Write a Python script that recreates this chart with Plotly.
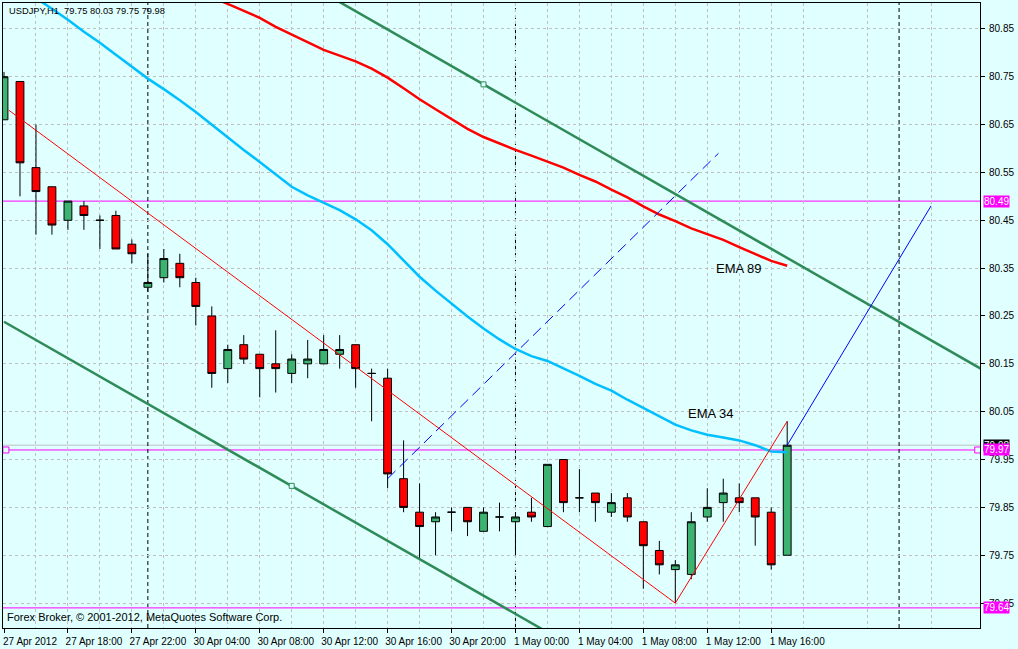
import plotly.graph_objects as go

# ---------------- data ----------------
bars = list(range(50))
opens = [80.66, 80.74, 80.56, 80.52, 80.45, 80.48, 80.45, 80.46, 80.40, 80.31,
         80.33, 80.36, 80.32, 80.25, 80.14, 80.19, 80.17, 80.15, 80.13, 80.15,
         80.15, 80.17, 80.19, 80.13, 80.12, 79.91, 79.84, 79.82, 79.84, 79.85,
         79.80, 79.83, 79.82, 79.84, 79.81, 79.95, 79.87, 79.88, 79.84, 79.87,
         79.82, 79.76, 79.72, 79.71, 79.83, 79.86, 79.87, 79.87, 79.84, 79.75]
highs = [80.76, 80.74, 80.65, 80.52, 80.49, 80.49, 80.46, 80.47, 80.41, 80.38,
         80.39, 80.38, 80.33, 80.27, 80.19, 80.21, 80.17, 80.22, 80.17, 80.20,
         80.21, 80.21, 80.19, 80.14, 80.14, 79.99, 79.90, 79.84, 79.85, 79.85,
         79.85, 79.86, 79.84, 79.87, 79.94, 79.95, 79.93, 79.88, 79.88, 79.88,
         79.82, 79.78, 79.74, 79.84, 79.89, 79.91, 79.90, 79.87, 79.85, 80.03]
lows = [80.66, 80.50, 80.42, 80.42, 80.43, 80.43, 80.39, 80.39, 80.36, 80.30,
        80.32, 80.31, 80.23, 80.10, 80.11, 80.15, 80.08, 80.09, 80.11, 80.12,
        80.15, 80.14, 80.10, 80.03, 79.89, 79.84, 79.74, 79.75, 79.80, 79.79,
        79.80, 79.80, 79.75, 79.82, 79.81, 79.84, 79.84, 79.82, 79.83, 79.82,
        79.68, 79.71, 79.65, 79.70, 79.82, 79.82, 79.84, 79.77, 79.72, 79.75]
closes = [80.75, 80.57, 80.51, 80.44, 80.49, 80.46, 80.45, 80.39, 80.38, 80.32,
          80.37, 80.33, 80.27, 80.13, 80.18, 80.16, 80.14, 80.14, 80.16, 80.16,
          80.18, 80.18, 80.14, 80.13, 79.92, 79.85, 79.81, 79.83, 79.84, 79.82,
          79.84, 79.83, 79.83, 79.83, 79.94, 79.86, 79.87, 79.86, 79.86, 79.83,
          79.77, 79.73, 79.73, 79.82, 79.85, 79.88, 79.86, 79.83, 79.73, 79.98]

ema34 = [80.960, 80.937, 80.914, 80.891, 80.869, 80.844, 80.821, 80.796, 80.771, 80.746,
         80.724, 80.701, 80.676, 80.649, 80.624, 80.597, 80.572, 80.545, 80.520, 80.502,
         80.487, 80.471, 80.452, 80.429, 80.400, 80.365, 80.332, 80.303, 80.276, 80.249,
         80.224, 80.201, 80.181, 80.166, 80.156, 80.141, 80.125, 80.108, 80.094, 80.075,
         80.058, 80.040, 80.023, 80.011, 80.002, 79.996, 79.990, 79.980, 79.967, 79.965]
ema89 = [81.124, 81.107, 81.090, 81.074, 81.057, 81.041, 81.024, 81.008, 80.991, 80.976,
         80.960, 80.945, 80.931, 80.916, 80.902, 80.887, 80.873, 80.854, 80.838, 80.821,
         80.806, 80.794, 80.782, 80.767, 80.748, 80.726, 80.703, 80.682, 80.661, 80.641,
         80.624, 80.610, 80.597, 80.585, 80.572, 80.560, 80.545, 80.531, 80.514, 80.498,
         80.479, 80.462, 80.448, 80.433, 80.421, 80.409, 80.394, 80.380, 80.365, 80.355]

tick_bars = [0, 4, 8, 12, 16, 20, 24, 28, 32, 36, 40, 44, 48]
tick_labels = ["27 Apr 2012", "27 Apr 18:00", "27 Apr 22:00", "30 Apr 04:00",
               "30 Apr 08:00", "30 Apr 12:00", "30 Apr 16:00", "30 Apr 20:00",
               "1 May 00:00", "1 May 04:00", "1 May 08:00", "1 May 12:00", "1 May 16:00"]
grid_bars = [2, 6, 10, 14, 18, 22, 26, 30, 34, 38, 42, 46, 50, 54, 58]
separators = [9, 32, 56]
price_ticks = [79.65, 79.75, 79.85, 79.95, 80.05, 80.15, 80.25, 80.35,
               80.45, 80.55, 80.65, 80.75, 80.85]

level_lines = [80.49, 79.97, 79.64]
bid_price = 79.98

upper_channel_x = [0, 62]
upper_channel_y = [81.307, 80.123]
upper_anchor_x, upper_anchor_y = [30], [80.734]
lower_channel_x = [0, 62]
lower_channel_y = [80.238, 79.055]
lower_anchor_x, lower_anchor_y = [18], [79.895]

zigzag_x = [0.3, 42, 49]
zigzag_y = [80.68, 79.65, 80.03]
dashed_x = [24, 44.7]
dashed_y = [79.91, 80.59]
proj_x = [49, 58]
proj_y = [79.98, 80.48]
level_marker_x = [0.12, 60.92]

x_range = [-0.0625, 61.0625]
y_range = [79.598, 80.904]

BG = "#E0FFFF"
FONT = "Liberation Sans"

# ---------------- figure ----------------
fig = go.Figure()

fig.add_trace(go.Scatter(x=bars, y=ema89, mode="lines",
                         line=dict(color="#FF0000", width=2.5), hoverinfo="skip"))
fig.add_trace(go.Scatter(x=bars, y=ema34, mode="lines",
                         line=dict(color="#00BFFF", width=2.5), hoverinfo="skip"))
fig.add_trace(go.Scatter(x=upper_channel_x, y=upper_channel_y, mode="lines",
                         line=dict(color="#2E8B57", width=2.5), hoverinfo="skip"))
fig.add_trace(go.Scatter(x=lower_channel_x, y=lower_channel_y, mode="lines",
                         line=dict(color="#2E8B57", width=2.5), hoverinfo="skip"))
fig.add_trace(go.Scatter(x=upper_anchor_x + lower_anchor_x,
                         y=upper_anchor_y + lower_anchor_y, mode="markers",
                         marker=dict(symbol="square", size=5, color=BG,
                                     line=dict(color="#2E8B57", width=1)),
                         hoverinfo="skip"))
fig.add_trace(go.Scatter(x=zigzag_x, y=zigzag_y, mode="lines",
                         line=dict(color="#FF0000", width=1), hoverinfo="skip"))
fig.add_trace(go.Scatter(x=dashed_x, y=dashed_y, mode="lines",
                         line=dict(color="#0000FF", width=1, dash="11px,6px"),
                         hoverinfo="skip"))
fig.add_trace(go.Scatter(x=proj_x, y=proj_y, mode="lines",
                         line=dict(color="#0000FF", width=1), hoverinfo="skip"))
fig.add_trace(go.Scatter(x=level_marker_x, y=[level_lines[1]] * 2, mode="markers",
                         marker=dict(symbol="square", size=6, color=BG,
                                     line=dict(color="#FF00FF", width=1)),
                         hoverinfo="skip"))

fig.add_trace(go.Candlestick(
    x=bars, open=opens, high=highs, low=lows, close=closes,
    increasing=dict(fillcolor="#3CB371", line=dict(color="#000000", width=1)),
    decreasing=dict(fillcolor="#FF0000", line=dict(color="#000000", width=1)),
    whiskerwidth=0, hoverinfo="skip"))

shapes = []
shapes.append(dict(type="line", xref="paper", x0=0, x1=1, yref="y",
                   y0=bid_price, y1=bid_price, layer="between",
                   line=dict(color="#C0C0C0", width=1)))
for lv in level_lines:
    shapes.append(dict(type="line", xref="paper", x0=0, x1=1, yref="y",
                       y0=lv, y1=lv, layer="between",
                       line=dict(color="#FF00FF", width=1)))
for sp in separators:
    shapes.append(dict(type="line", xref="x", x0=sp, x1=sp, yref="paper",
                       y0=0, y1=1, layer="between",
                       line=dict(color="#000000", width=1, dash="4px,3px")))

annotations = [
    dict(xref="paper", yref="paper", x=0, y=1, xanchor="left", yanchor="top",
         xshift=4, yshift=-1, showarrow=False,
         text="USDJPY,H1&nbsp;&nbsp;79.75 80.03 79.75 79.98",
         font=dict(family=FONT, size=9.3, color="#000000")),
    dict(xref="paper", yref="paper", x=0, y=0, xanchor="left", yanchor="bottom",
         xshift=2, yshift=3, showarrow=False,
         text="Forex Broker, © 2001-2012, MetaQuotes Software Corp.",
         font=dict(family=FONT, size=11, color="#000000")),
    dict(xref="x", yref="y", x=44.25, y=80.046, showarrow=False, text="EMA 34",
         font=dict(family=FONT, size=13, color="#000000")),
    dict(xref="x", yref="y", x=46.0, y=80.35, showarrow=False, text="EMA 89",
         font=dict(family=FONT, size=13, color="#000000")),
    dict(xref="paper", yref="y", x=1, y=bid_price, xanchor="left", xshift=3,
         showarrow=False, text="%.2f" % bid_price, bgcolor="#000000",
         borderpad=0, font=dict(family=FONT, size=10, color="#FFFFFF")),
]
for lv in level_lines:
    annotations.append(dict(xref="paper", yref="y", x=1, y=lv, xanchor="left",
                            xshift=3, showarrow=False, text="%.2f" % lv,
                            bgcolor="#FF00FF", borderpad=0,
                            font=dict(family=FONT, size=10, color="#FFFFFF")))

fig.update_layout(
    width=1018, height=649,
    margin=dict(l=2, r=38, t=2, b=17),
    paper_bgcolor=BG, plot_bgcolor=BG,
    showlegend=False, boxgap=0.3,
    font=dict(family=FONT, size=10, color="#000000"),
    shapes=shapes, annotations=annotations,
    xaxis=dict(range=x_range, tickmode="array", tickvals=tick_bars,
               ticktext=tick_labels, ticks="outside", ticklen=4,
               tickcolor="#000000", ticklabelshift=26, ticklabelstandoff=0,
               showgrid=True, gridcolor="#C0C0C0", griddash="3px,3px", gridwidth=1,
               minor=dict(tickmode="array", tickvals=grid_bars, showgrid=True,
                          gridcolor="#C0C0C0", griddash="3px,3px", ticks=""),
               showline=True, linecolor="#000000", linewidth=1, mirror=True,
               zeroline=False, rangeslider=dict(visible=False), fixedrange=True,
               tickfont=dict(family=FONT, size=10, color="#000000")),
    yaxis=dict(range=y_range, side="right", tickmode="array", tickvals=price_ticks,
               ticktext=["%.2f" % v for v in price_ticks], ticks="outside",
               ticklen=4, tickcolor="#000000", ticklabelstandoff=2,
               showgrid=True, gridcolor="#C0C0C0", griddash="3px,3px", gridwidth=1,
               showline=True, linecolor="#000000", linewidth=1, mirror=True,
               zeroline=False, fixedrange=True,
               tickfont=dict(family=FONT, size=10, color="#000000")),
)

fig.write_html("out.html", config={"displayModeBar": False},
               post_script="document.body.style.margin='0';")
